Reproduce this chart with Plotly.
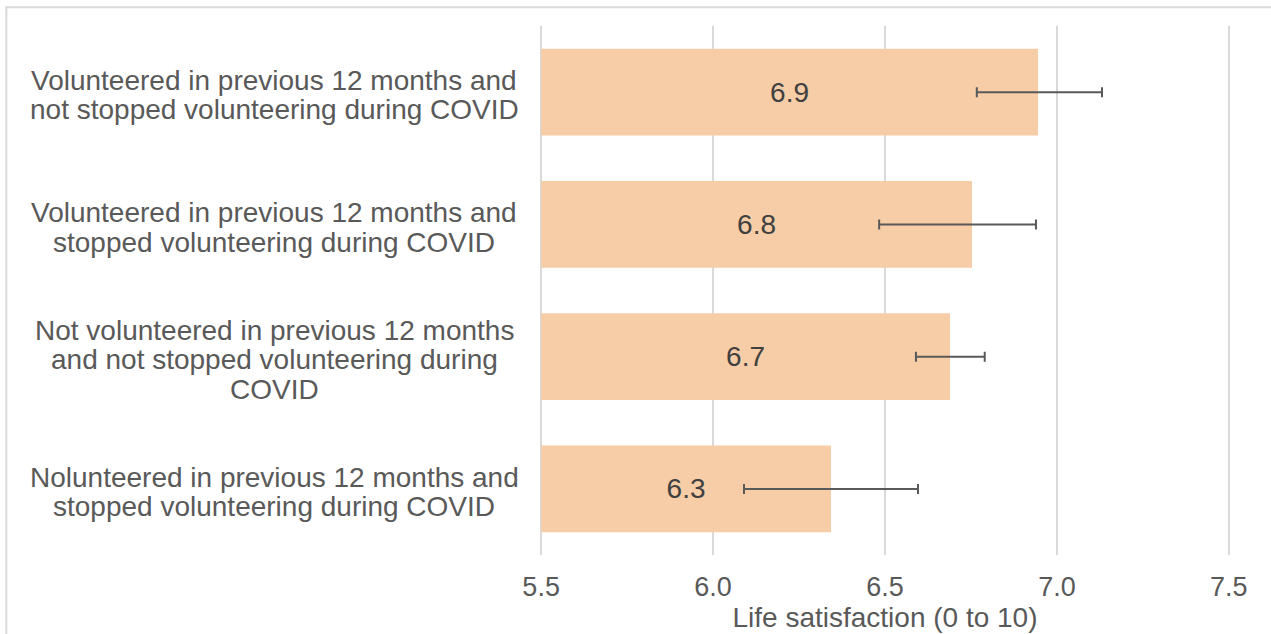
import plotly.graph_objects as go

categories = [
    "Volunteered in previous 12 months and<br>not stopped volunteering during COVID",
    "Volunteered in previous 12 months and<br>stopped volunteering during COVID",
    "Not volunteered in previous 12 months<br>and not stopped volunteering during<br>COVID",
    "Nolunteered in previous 12 months and<br>stopped volunteering during COVID",
]
values = [6.945, 6.753, 6.689, 6.343]
value_labels = ["6.9", "6.8", "6.7", "6.3"]
ci_lower = [6.767, 6.483, 6.590, 6.090]
ci_upper = [7.131, 6.939, 6.790, 6.596]
x_min, x_max = 5.5, 7.5
x_ticks = [5.5, 6.0, 6.5, 7.0, 7.5]
x_tick_labels = ["5.5", "6.0", "6.5", "7.0", "7.5"]
x_title = "Life satisfaction (0 to 10)"

W, H = 1271, 634
# pixel extent of the x range [x_min, x_max] in the reference
X0_PX, X1_PX = 541, 1229
MT, MB = 26, 72
pad = 0.012  # small range padding so the edge gridlines are drawn
px_per_unit = (X1_PX - X0_PX) / (x_max - x_min)
ML = X0_PX - pad * px_per_unit
MR = W - (X1_PX + pad * px_per_unit)
PW, PH = W - ML - MR, H - MT - MB

FONT = "Liberation Sans, Arial, Helvetica, sans-serif"
GREY = "#595959"

err_plus = [u - v for u, v in zip(ci_upper, values)]
err_minus = [v - l for v, l in zip(values, ci_lower)]

fig = go.Figure()
fig.add_trace(go.Bar(
    y=categories, x=[v - x_min for v in values], base=x_min, orientation="h",
    marker=dict(color="#F6CDA6", line=dict(width=0)),
    text=value_labels, textposition="inside", insidetextanchor="middle",
    textfont=dict(family=FONT, size=28, color="#404040"),
    error_x=dict(type="data", symmetric=False, array=err_plus, arrayminus=err_minus,
                 color=GREY, thickness=2, width=5),
    customdata=values, hovertemplate="%{customdata}<extra></extra>",
))

# category labels as centered annotations (one per line for tight spacing)
line_gap = 29.5
cx = (274 - ML) / PW
for cat in categories:
    lines = cat.split("<br>")
    n = len(lines)
    for i, ln in enumerate(lines):
        off = (i - (n - 1) / 2) * line_gap + 3
        fig.add_annotation(
            x=cx, xref="paper", y=cat, yref="y", text=ln, showarrow=False,
            xanchor="center", yanchor="middle", yshift=-off,
            font=dict(family=FONT, size=28, color=GREY),
        )

# outer frame
def px_x(p):
    return (p - ML) / PW

def px_y(p):
    return (H - MB - p) / PH

fig.add_shape(type="rect", xref="paper", yref="paper",
              x0=px_x(6), x1=px_x(1290), y0=px_y(660), y1=px_y(7),
              line=dict(color="#d9d9d9", width=2), fillcolor="rgba(0,0,0,0)", layer="below")

fig.update_layout(
    width=W, height=H,
    margin=dict(l=ML, r=MR, t=MT, b=MB, pad=0),
    paper_bgcolor="white", plot_bgcolor="white",
    showlegend=False,
    bargap=0.343,
    xaxis=dict(
        range=[x_min - pad, x_max + pad], tickvals=x_ticks, ticktext=x_tick_labels,
        showgrid=True, gridcolor="#d9d9d9", gridwidth=1.5,
        zeroline=False, showline=False, ticks="",
        ticklabelstandoff=13,
        tickfont=dict(family=FONT, size=27, color=GREY),
        title=dict(text=x_title, font=dict(family=FONT, size=28, color=GREY), standoff=0),
        fixedrange=True,
    ),
    yaxis=dict(
        categoryorder="array", categoryarray=categories, autorange="reversed",
        showticklabels=False, showgrid=False, zeroline=False, showline=False, ticks="",
        fixedrange=True,
    ),
    font=dict(family=FONT, color=GREY),
)

fig.write_html("out.html", config={"displayModeBar": False},
               post_script="document.body.style.margin='0';document.body.style.overflow='hidden';")
